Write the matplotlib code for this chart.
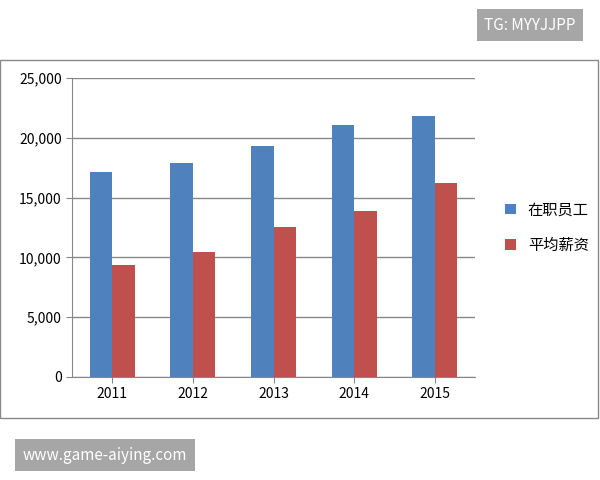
import matplotlib
matplotlib.use("Agg")
import matplotlib.pyplot as plt
import numpy as np
from matplotlib.patches import Rectangle

plt.rcParams['font.family'] = ['Noto Sans CJK SC', 'DejaVu Sans']

years = ['2011', '2012', '2013', '2014', '2015']
staff = [17100, 17900, 19300, 21050, 21800]
salary = [9400, 10450, 12550, 13900, 16200]
series_names = ['在职员工', '平均薪资']

fig = plt.figure(figsize=(6, 4.8), dpi=100)
fig.patches.append(Rectangle((0.0, 1-418/480), 0.997, (418-60)/480, transform=fig.transFigure,
                             fill=False, edgecolor='#888888', lw=1))
ax = fig.add_axes([72/600, 1-377/480, (475-72)/600, (377-78)/480])
x = np.arange(len(years))
w = 0.28
ax.bar(x - w/2, staff, w, color='#4F81BD', label=series_names[0], zorder=3)
ax.bar(x + w/2, salary, w, color='#C0504D', label=series_names[1], zorder=3)
ax.set_xlim(-0.5, 4.5)
ax.set_ylim(0, 25000)
ax.set_yticks(range(0, 25001, 5000))
ax.set_yticklabels([f'{v:,}' for v in range(0, 25001, 5000)], fontsize=10)
ax.set_xticks(x)
ax.set_xticklabels(years, fontsize=10)
ax.yaxis.grid(True, color='#888888', lw=1, zorder=0)
for s in ['top', 'right']:
    ax.spines[s].set_visible(False)
ax.spines['left'].set_color('#888888')
ax.spines['bottom'].set_color('#888888')
ax.tick_params(axis='both', length=4, color='#888888')
ax.legend(loc='center left', bbox_to_anchor=(1.04, 0.5), frameon=False, fontsize=11,
          handlelength=0.7, handleheight=0.7, labelspacing=1.2)

fig.text(530/600, 1-25/480, 'TG: MYYJJPP', color='white', fontsize=11, ha='center', va='center',
         bbox=dict(boxstyle='square,pad=0.5', fc='#a6a6a6', ec='none'))
fig.text(105/600, 1-455/480, 'www.game-aiying.com', color='white', fontsize=11, ha='center', va='center',
         bbox=dict(boxstyle='square,pad=0.5', fc='#a6a6a6', ec='none'))
fig.savefig('out.png', dpi=100)
